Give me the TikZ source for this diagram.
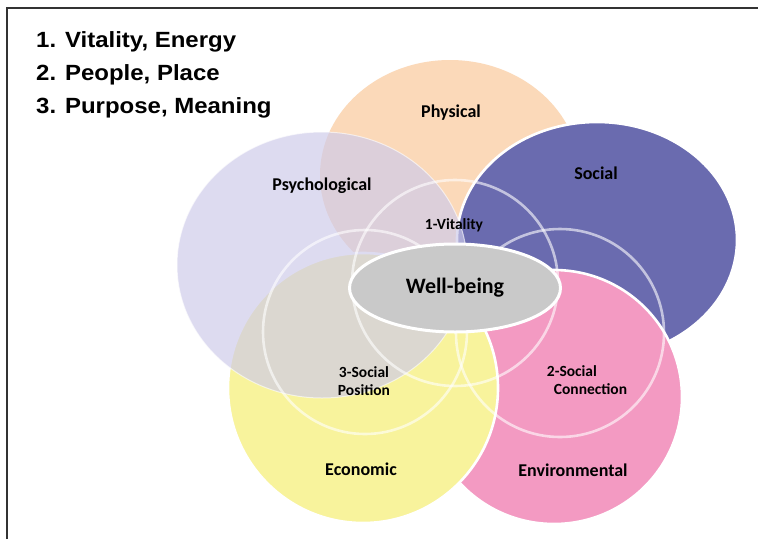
\documentclass[tikz,border=0pt]{standalone}
\usepackage{fontspec}
\usetikzlibrary{shapes.geometric}
\setmainfont{Carlito}
\newfontfamily\listfont{Liberation Sans}
\begin{document}
\definecolor{physfill}{HTML}{FBD9B9}
\definecolor{psychfill}{RGB}{206,203,234}
\definecolor{socialfill}{HTML}{6A6BAF}
\definecolor{envfill}{HTML}{F39AC2}
\definecolor{econfill}{HTML}{F8F39C}
\definecolor{wellfill}{HTML}{C9C9C9}
\definecolor{framecol}{HTML}{333333}
\begin{tikzpicture}[x=1pt,y=-1pt,
  frameline/.style={draw=framecol,line width=1.4pt},
  areaedge/.style={draw=white,line width=2.6pt},
  ring/.style={draw=white,draw opacity=0.6,line width=2.6pt},
  listtext/.style={anchor=base west,inner sep=0pt,font=\listfont\bfseries\fontsize{22}{24}\selectfont},
  namelabel/.style={inner sep=0pt,font=\bfseries\fontsize{18}{20}\selectfont},
  ringlabel/.style={inner sep=0pt,align=center,font=\bfseries\fontsize{15.5}{18}\selectfont}]
\useasboundingbox (0,0) rectangle (758,539);
\fill[white] (0,0) rectangle (758,539);
\draw[frameline] (7,539) -- (7,8) -- (758,8);

% five domains
\fill[physfill] (450,175) ellipse [x radius=130pt, y radius=115pt];
\path[areaedge,fill=socialfill] (597,240) ellipse [x radius=140pt, y radius=118pt];
\path[areaedge,fill=envfill] (554,397) ellipse [x radius=128pt, y radius=127pt];
\path[areaedge,fill=econfill] (363,388) ellipse [x radius=135pt, y radius=135pt];
\path[fill=psychfill,fill opacity=0.68,draw=white,draw opacity=0.6,line width=1pt]
  (322,265) ellipse [x radius=145pt, y radius=133pt];

% three overlap rings
\path[ring] (455,283) circle [radius=103pt];
\path[ring] (560,333) circle [radius=104pt];
\path[ring] (365,332) circle [radius=102pt];

% centre
\node[ellipse,draw=white,line width=3pt,fill=wellfill,minimum width=211pt,minimum height=88pt,inner sep=0pt,
  font=\bfseries\fontsize{22}{24}\selectfont] (wb) at (455,288) {Well-being};

% labels
\node[namelabel] (phys) at (451,113) {Physical};
\node[namelabel] (psych) at (322,186) {Psychological};
\node[namelabel] (soc) at (596,173) {Social};
\node[namelabel] (econ) at (361,469) {Economic};
\node[namelabel] (env) at (573,470) {Environmental};
\node[ringlabel] (vit) at (454,225) {1-Vitality};
\node[ringlabel] (pos) at (364,381) {3-Social\\Position};
\node[ringlabel,align=left] (conn) at (587,380) {2-Social\\\hspace*{7pt}Connection};

% legend
\node[listtext] (l1) at (36,47) {\scalebox{1.09}[1]{1. Vitality, Energy}};
\node[listtext] (l2) at (36,80) {\scalebox{1.09}[1]{2. People, Place}};
\node[listtext] (l3) at (36,113) {\scalebox{1.09}[1]{3. Purpose, Meaning}};
\end{tikzpicture}
\end{document}
